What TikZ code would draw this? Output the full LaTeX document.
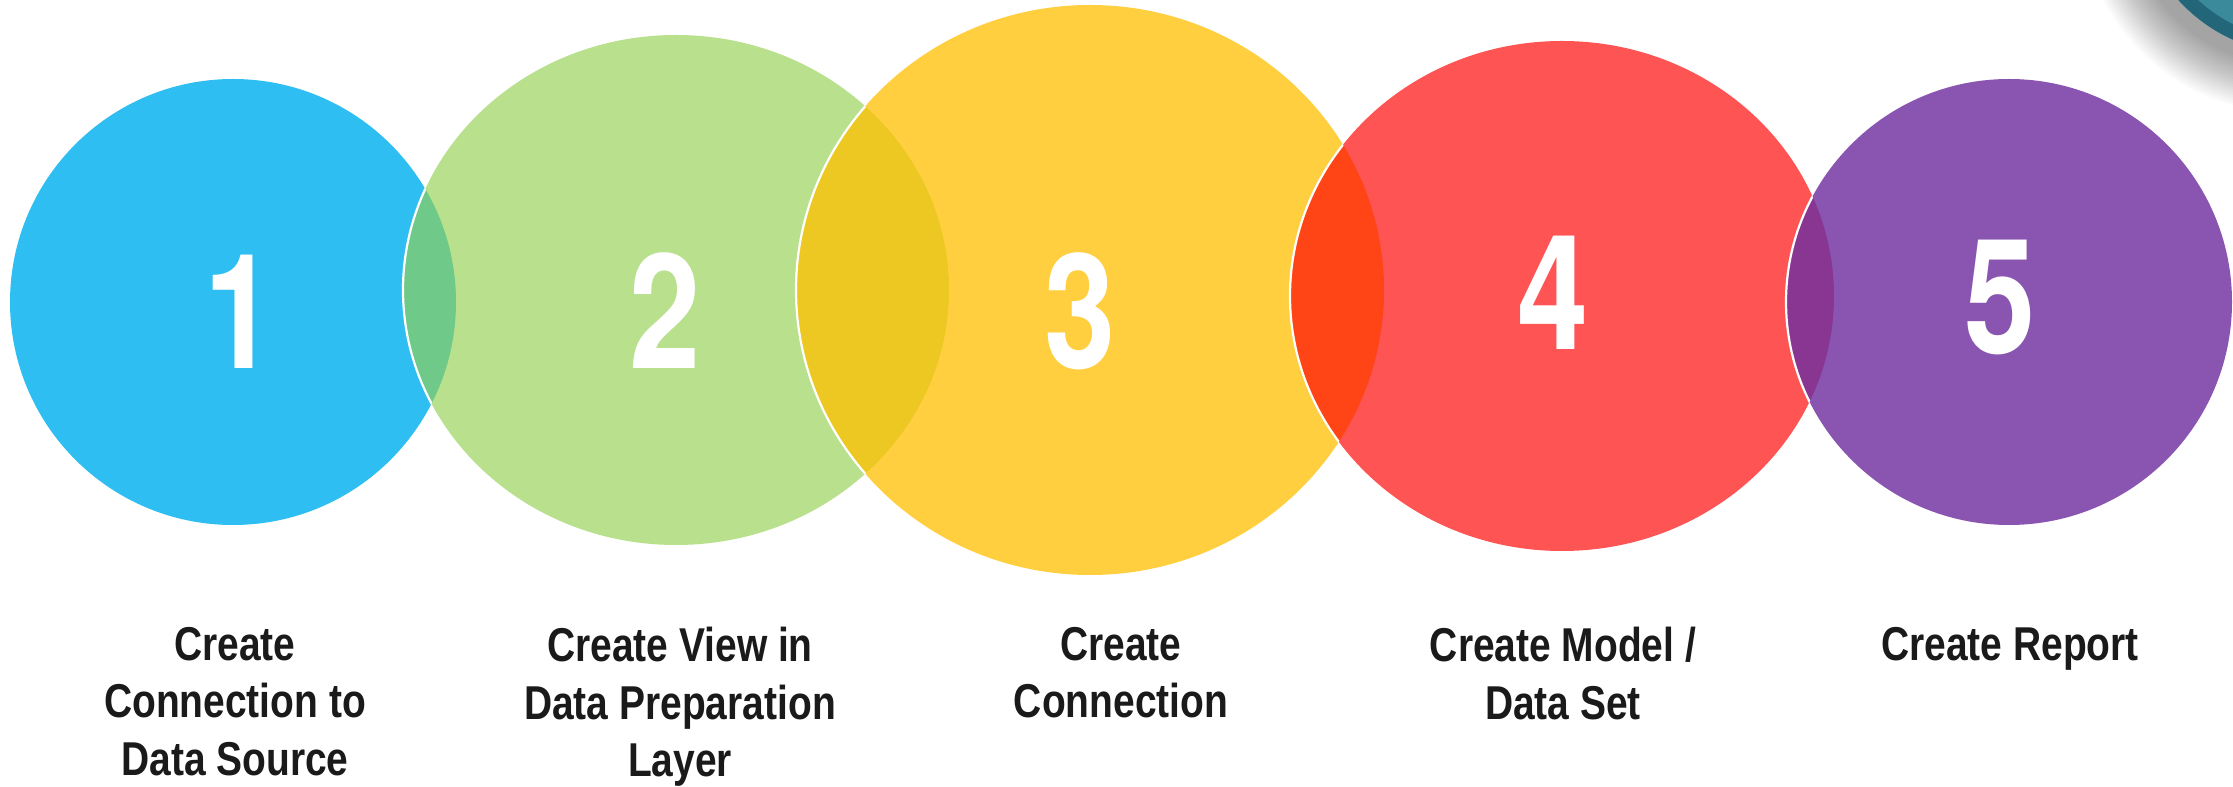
\documentclass[tikz,border=0pt]{standalone}
\usepackage{fontspec}
\usetikzlibrary{shapes.geometric}
\newfontfamily\lblfont[FakeStretch=0.82]{Liberation Sans}
\newfontfamily\numfont[FakeStretch=0.80]{TeX Gyre Heros}
\definecolor{cblue}{HTML}{00B0F0}
\definecolor{cgreen}{HTML}{92D050}
\definecolor{cyellow}{HTML}{FFC000}
\definecolor{cred}{HTML}{FF0000}
\definecolor{cpurple}{HTML}{7030A0}
\definecolor{ctext}{HTML}{1A1A1A}
\definecolor{tealin}{HTML}{3A8A9C}
\definecolor{tealrim}{HTML}{1D5A6E}
\begin{document}
\begin{tikzpicture}[x=1pt,y=1pt,
  disc/.style={ellipse, inner sep=0pt, draw=none},
  rim/.style={white, line width=2.2pt},
  num/.style={anchor=base, inner sep=0pt, text=white, font=\numfont\bfseries\fontsize{160}{160}\selectfont},
  lbl/.style={anchor=north, inner sep=0pt, align=center, text=ctext, font=\lblfont\bfseries\fontsize{47.5}{57.5}\selectfont}]
\useasboundingbox (0,0) rectangle (2233,787);
\clip (0,0) rectangle (2233,787);
\fill[white] (0,0) rectangle (2233,787);
% top-right ball with soft shadow
\foreach \k in {0,...,19}{
  \fill[black, opacity=0.018] (2288,882) circle[radius=160+2.5*\k];
}
\fill[tealin] (2300,897) circle[radius=164];
\draw[tealrim, line width=14pt, opacity=0.75] (2300,897) circle[radius=157];
% circles
\node[disc, fill=cblue, fill opacity=0.82, minimum width=446pt, minimum height=446pt] (c1) at (233,485) {};
\node[disc, fill=cgreen, fill opacity=0.65, minimum width=546pt, minimum height=510pt] (c2) at (676,497) {};
\begin{scope}
  \clip (c1.center) ellipse[x radius=223, y radius=223];
  \draw[rim] (c2.center) ellipse[x radius=273, y radius=255];
\end{scope}
\node[disc, fill=cyellow, fill opacity=0.75, minimum width=588pt, minimum height=570pt] (c3) at (1090,497) {};
\begin{scope}
  \clip (c2.center) ellipse[x radius=273, y radius=255];
  \draw[rim] (c3.center) ellipse[x radius=294, y radius=285];
\end{scope}
\node[disc, fill=cred, fill opacity=0.67, minimum width=544pt, minimum height=510pt] (c4) at (1562,491) {};
\begin{scope}
  \clip (c3.center) ellipse[x radius=294, y radius=285];
  \draw[rim] (c4.center) ellipse[x radius=272, y radius=255];
\end{scope}
\node[disc, fill=cpurple, fill opacity=0.82, minimum width=446pt, minimum height=446pt] (c5) at (2009,485) {};
\begin{scope}
  \clip (c4.center) ellipse[x radius=272, y radius=255];
  \draw[rim] (c5.center) ellipse[x radius=223, y radius=223];
\end{scope}
% numbers
\node[num] (n1) at (240,418) {1};
\node[num] (n2) at (665,418) {2};
\node[num] (n3) at (1080,418) {3};
\node[num] (n4) at (1553,437) {4};
\node[num] (n5) at (2000,433) {5};
% labels
\node[lbl] (l1) at (235,160) {Create\\Connection to\\Data Source};
\node[lbl] (l2) at (680,160) {Create View in\\Data Preparation\\Layer};
\node[lbl] (l3) at (1121,160) {Create\\Connection};
\node[lbl] (l4) at (1563,160) {Create Model /\\Data Set};
\node[lbl] (l5) at (2010,160) {Create Report};
\end{tikzpicture}
\end{document}
